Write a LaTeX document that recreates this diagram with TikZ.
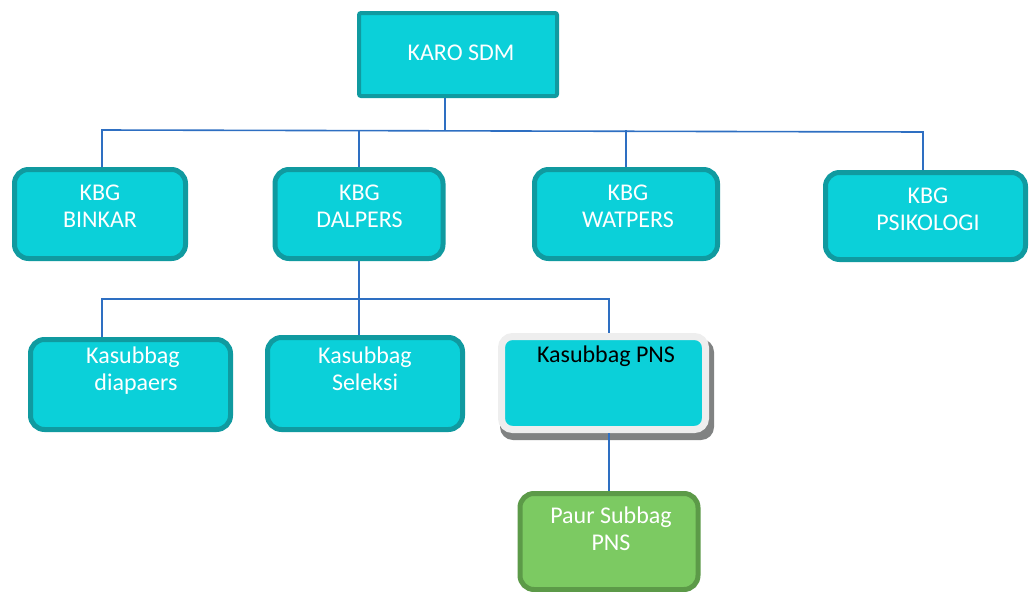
\documentclass[tikz,border=0pt]{standalone}
\usepackage{fontspec}
\setmainfont{Carlito}
\definecolor{cyanfill}{RGB}{11,208,217}
\definecolor{cyanborder}{RGB}{16,154,160}
\definecolor{linkblue}{RGB}{46,111,194}
\definecolor{greenfill}{RGB}{124,202,98}
\definecolor{greenborder}{RGB}{92,154,72}
\definecolor{framegray}{RGB}{238,238,238}
\definecolor{shadowgray}{RGB}{128,130,130}
\tikzset{
  x=1pt, y=-1pt,
  unitbox/.style={draw=cyanborder, fill=cyanfill, line width=5pt, rounded corners=14pt, inner sep=0pt},
  topbox/.style={draw=cyanborder, fill=cyanfill, line width=4pt, rounded corners=2pt, inner sep=0pt},
  pnsbox/.style={draw=framegray, fill=cyanfill, line width=7pt, rounded corners=11pt, inner sep=0pt},
  pnsshadow/.style={fill=shadowgray, rounded corners=13pt},
  greenbox/.style={draw=greenborder, fill=greenfill, line width=5pt, rounded corners=14pt, inner sep=0pt},
  lbl/.style={text=white, align=center, font=\fontsize{24}{27}\selectfont, inner sep=0pt},
  conn/.style={draw=linkblue, line width=1.6pt},
}
\begin{document}
\begin{tikzpicture}
\useasboundingbox (0,0) rectangle (1029,592);
% shadow of the PNS box
\fill[pnsshadow] (500,339) rectangle (714,440);
% boxes
\node[topbox, minimum width=198pt, minimum height=83pt] (karo) at (458,54.5) {};
\node[unitbox, minimum width=171pt, minimum height=89pt] (binkar) at (100,214) {};
\node[unitbox, minimum width=168pt, minimum height=89pt] (dalpers) at (359,214) {};
\node[unitbox, minimum width=183pt, minimum height=89pt] (watpers) at (626,214) {};
\node[unitbox, minimum width=200pt, minimum height=87pt] (psikologi) at (925.5,216) {};
\node[unitbox, minimum width=200pt, minimum height=90pt] (diap) at (130.5,384.5) {};
\node[unitbox, minimum width=195pt, minimum height=92pt] (seleksi) at (365,383.5) {};
\node[pnsbox, minimum width=204pt, minimum height=93pt] (pns) at (603.5,383) {};
\node[greenbox, minimum width=178pt, minimum height=96pt] (paur) at (609,541.5) {};
% labels
\node[lbl] (karo-t) at (461,53) {KARO SDM};
\node[lbl] (binkar-t) at (100,206) {KBG\\BINKAR};
\node[lbl] (dalpers-t) at (359.5,206) {KBG\\DALPERS};
\node[lbl] (watpers-t) at (628,206) {KBG\\WATPERS};
\node[lbl] (psikologi-t) at (928,209) {KBG\\PSIKOLOGI};
\node[lbl] (diap-t) at (133,371) {Kasubbag\\\hspace*{6pt}diapaers};
\node[lbl] (seleksi-t) at (365,369) {Kasubbag\\Seleksi};
\node[lbl, text=black] (pns-t) at (606,356) {Kasubbag PNS};
\node[lbl] (paur-t) at (611,529) {Paur Subbag\\PNS};
% connector coordinates
\coordinate (busL) at (102,130);
\coordinate (busJ) at (445,130);
\coordinate (busR) at (923,132);
\coordinate (bus2L) at (102,299);
\coordinate (bus2R) at (609,299);
% first level connectors
\draw[conn] (karo.south -| busJ) -- (busJ);
\draw[conn] (binkar.north -| busL) -- (busL) -- (busR) -- (busR |- psikologi.north);
\draw[conn] (dalpers.north) -- (dalpers.north |- busL);
\draw[conn] (watpers.north) -- (watpers.north |- busL);
% second level connectors
\draw[conn] (dalpers.south) -- (dalpers.south |- seleksi.north);
\draw[conn] (diap.north -| bus2L) -- (bus2L) -- (bus2R) -- (pns.north -| bus2R);
\draw[conn] (pns.south -| paur.north) -- (paur.north);
\end{tikzpicture}
\end{document}
